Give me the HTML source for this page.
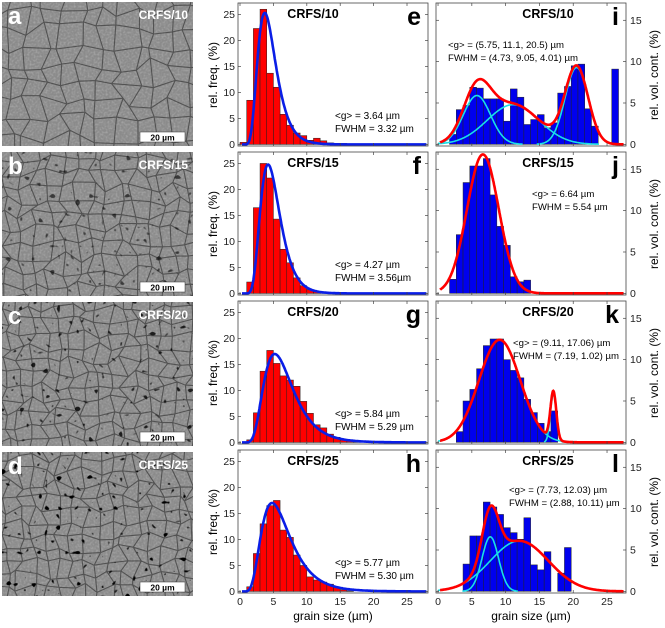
<!DOCTYPE html>
<html><head><meta charset="utf-8">
<style>
html,body{margin:0;padding:0;background:#fff;}
svg{display:block;font-family:"Liberation Sans",Arial,sans-serif;}
</style></head>
<body>
<svg id="fig" width="665" height="628" viewBox="0 0 665 628" xmlns="http://www.w3.org/2000/svg">
<defs>
<filter id="spk" x="0" y="0" width="100%" height="100%">
<feTurbulence type="fractalNoise" baseFrequency="0.16" numOctaves="1" seed="7" result="t"/>
<feColorMatrix in="t" type="matrix" values="0 0 0 0 0  0 0 0 0 0  0 0 0 0 0  -16 0 0 0 5.1" result="b"/>
<feComposite in="b" in2="SourceGraphic" operator="in"/>
</filter>
<filter id="tex" x="0" y="0" width="100%" height="100%">
<feTurbulence type="fractalNoise" baseFrequency="0.5" numOctaves="1" seed="2" result="t"/>
<feColorMatrix in="t" type="matrix" values="0 0 0 0 1  0 0 0 0 1  0 0 0 0 1  0.5 0 0 0 -0.2"/>
<feComposite in2="SourceGraphic" operator="in"/>
</filter>
</defs>
<g id="root"></g>
</svg>
<script>
// ---- middle panel histogram data (bin start = index, width 1 um) ----
const freq10 = [0.4, 8.5, 22.3, 26, 13.7, 11, 5.8, 3.7, 2.2, 1.7, 0.8, 1.2, 0.7, 0.3, 0.2, 0.2, 0.1, 0.1];
const freq15 = [0, 2.2, 16.5, 25, 22.2, 14.3, 8.5, 5.9, 3.0, 1.5, 0.7, 0.4, 0.2, 0.1, 0.1];
const freq20 = [0, 0.5, 5.7, 13.7, 17.7, 15.2, 12.8, 12, 10.8, 7.9, 5.6, 3.4, 2.8, 1.6, 1.0, 0.5, 0.3, 0.1];
const freq25 = [0, 0.9, 7.3, 13, 16.5, 17.5, 11.8, 10.4, 7, 5, 2.8, 2.2, 1.8, 1.4, 0.9, 0.3, 0.1];
// lognormal fit parameters [amplitude, mode, sigma]
const fit10 = [25.3, 3.7, 0.37];
const fit15 = [24.8, 4.2, 0.35];
const fit20 = [17.0, 5.2, 0.42];
const fit25 = [17.0, 4.8, 0.45];
// ---- right panel volume histograms ----
const binStartVol = 1.7;
const vol10 = [1.2, 4.2, 4.7, 6.9, 6.8, 5.5, 5.5, 5.5, 2.8, 6.7, 5.7, 2.4, 3.0, 3.6, 2.0, 2.6, 6.2, 7.0, 9.5, 9.7, 4.3, 2.2, 0, 0, 9.1];
const vol15 = [1.7, 7.1, 13.4, 15.4, 15.4, 16.3, 11.9, 8.1, 5.8, 2.0, 1.4, 1.6];
const vol20 = [0, 1.3, 5.0, 6.4, 8.9, 11.7, 12.5, 12.5, 10.0, 8.7, 7.8, 5.2, 3.6, 2.3, 1.3, 3.8];
const vol25 = [0, 0, 3.3, 6.7, 6.7, 10.8, 10.2, 9.3, 7.7, 7.1, 6.3, 8.9, 3.2, 2.6, 4.8, 0, 2.2, 5.3];
// gaussian components: centres, FWHMs, heights
const cen10 = [5.75, 11.1, 20.5], fw10 = [4.73, 9.05, 4.01], ht10 = [5.9, 4.8, 9.3];
const cen15 = [6.64], fw15 = [5.54], ht15 = [16.8];
const cen20 = [9.11, 17.06], fw20 = [7.19, 1.02], ht20 = [12.4, 5.8];
const cen25 = [7.73, 12.03], fw25 = [2.88, 10.11], ht25 = [6.6, 6.1];
const xTicks = [0, 5, 10, 15, 20, 25];
const yTicksFreq = [0, 5, 10, 15, 20, 25];
const yTicksVol = [0, 5, 10, 15];
const names = ["CRFS/10", "CRFS/15", "CRFS/20", "CRFS/25"];
const midLetters = ["e", "f", "g", "h"], rightLetters = ["i", "j", "k", "l"], imgLetters = ["a", "b", "c", "d"];
const meanTxt = ["<g> = 3.64 \u00b5m", "<g> = 4.27 \u00b5m", "<g> = 5.84 \u00b5m", "<g> = 5.77 \u00b5m"];
const fwTxt = ["FWHM = 3.32 \u00b5m", "FWHM = 3.56\u00b5m", "FWHM = 5.29 \u00b5m", "FWHM = 5.30 \u00b5m"];
const volMean = ["<g> = (5.75, 11.1, 20.5) \u00b5m", "<g> = 6.64 \u00b5m", "<g> = (9.11, 17.06) \u00b5m", "<g> = (7.73, 12.03) \u00b5m"];
const volFw = ["FWHM = (4.73, 9.05, 4.01) \u00b5m", "FWHM = 5.54 \u00b5m", "FWHM = (7.19, 1.02) \u00b5m", "FWHM = (2.88, 10.11) \u00b5m"];

const freqs = [freq10, freq15, freq20, freq25];
const fits = [fit10, fit15, fit20, fit25];
const vols = [vol10, vol15, vol20, vol25];
const cens = [cen10, cen15, cen20, cen25], fws = [fw10, fw15, fw20, fw25], hts = [ht10, ht15, ht20, ht25];

const NS = "http://www.w3.org/2000/svg";
const root = document.getElementById("root");
function el(tag, attrs, parent, txt) {
  const e = document.createElementNS(NS, tag);
  for (const k in attrs) e.setAttribute(k, attrs[k]);
  if (txt !== undefined) e.textContent = txt;
  (parent || root).appendChild(e);
  return e;
}
function lognorm(p, x) { if (x <= 0) return 0; const l = Math.log(x / p[1]); return p[0] * Math.exp(-l * l / (2 * p[2] * p[2])); }
function gauss(c, f, h, x) { const s = f / 2.3548; return h * Math.exp(-(x - c) * (x - c) / (2 * s * s)); }
let seed = 12345;
function rnd() { seed = (seed * 1103515245 + 12345) % 2147483648; return seed / 2147483648; }

for (let r = 0; r < 4; r++) {
  const top = 3 + 149 * r, bot = top + 143;
  // ---- micrograph ----
  const mg = el("g", {}, root);
  
  
  const iy = 2 + 150 * r;
  const mcid = "mc" + r;
  const mcp = el("clipPath", { id: mcid }, mg); el("rect", { x: 2, y: iy, width: 191, height: 144 }, mcp);
  const mgi = el("g", { "clip-path": "url(#" + mcid + ")" }, mg);
  el("rect", { x: 2, y: iy, width: 191, height: 144, fill: "#8b8b8b" }, mgi);
  el("rect", { x: 2, y: iy, width: 191, height: 144, fill: "#fff", filter: "url(#tex)" }, mgi);
  // grain boundary network on jittered grid
  const sp = [18, 14, 13, 13][r];
  const nx = Math.ceil(195 / sp) + 2, ny = Math.ceil(150 / sp) + 2;
  const P = [];
  for (let j = 0; j < ny; j++) { P.push([]); for (let i = 0; i < nx; i++) P[j].push([i * sp - sp / 2 + (rnd() - 0.5) * sp * 0.8, iy + j * sp - sp / 2 + (rnd() - 0.5) * sp * 0.8]); }
  let gd = "";
  for (let j = 0; j < ny; j++) for (let i = 0; i < nx; i++) {
    const p = P[j][i];
    if (i + 1 < nx) gd += "M" + p[0].toFixed(1) + "," + p[1].toFixed(1) + "L" + P[j][i + 1][0].toFixed(1) + "," + P[j][i + 1][1].toFixed(1);
    if (j + 1 < ny) gd += "M" + p[0].toFixed(1) + "," + p[1].toFixed(1) + "L" + P[j + 1][i][0].toFixed(1) + "," + P[j + 1][i][1].toFixed(1);
  }
  el("path", { d: gd, fill: "none", stroke: "#3e3e3e", "stroke-width": 1.1, opacity: 0.75 }, mgi);
  if (r > 0) el("rect", { x: 2, y: iy, width: 191, height: 144, fill: "#000", opacity: 0.4 + 0.2 * r, filter: "url(#spk)" }, mgi);
  const lt = el("text", { x: 8, y: iy + 22, fill: "#fff", "font-size": 24, "font-weight": "bold" }, mg, imgLetters[r]);
  
  
  const nt = el("text", { x: 188, y: iy + 17, fill: "#fff", "font-size": 12, "font-weight": "bold", "text-anchor": "end" }, mg, names[r]);
  
  
  const sb = el("rect", { x: 140, y: iy + 130, width: 45, height: 10, fill: "#fff", stroke: "#333", "stroke-width": 0.5 }, mg);
  
  
  el("text", { x: 162.5, y: iy + 138.5, "font-size": 8.5, "font-weight": "bold", "text-anchor": "middle" }, mg, "20 \u00b5m");

  // ---- middle panel ----
  const mx0 = 238, mx1 = 428;
  const X = v => mx0 + (v + 0.3) * 6.68;
  const Y = v => bot - (v + 0.3) * 5.2;
  const mp = el("g", {}, root);
  
  
  const cl = "clipm" + r;
  const cp = el("clipPath", { id: cl }, mp); el("rect", { x: mx0, y: top, width: mx1 - mx0, height: bot - top }, cp);
  const bars = el("g", { "clip-path": "url(#" + cl + ")" }, mp);
  freqs[r].forEach((v, i) => {
    if (v <= 0) return;
    const b = el("rect", { x: X(i), y: Y(v), width: X(i + 1) - X(i), height: Y(0) - Y(v), fill: "#ff0000", stroke: "#222", "stroke-width": 0.5 }, bars);
    
    
  });
  let d = "";
  for (let x = 0.3; x <= 28; x += 0.1) d += (d ? "L" : "M") + X(x).toFixed(1) + "," + Y(lognorm(fits[r], x)).toFixed(1);
  const fc = el("path", { d: d, fill: "none", stroke: "#0a1ee6", "stroke-width": 2.6 }, bars);
  
  
  const fr = el("rect", { x: mx0, y: top, width: mx1 - mx0, height: bot - top, fill: "none", stroke: "#444", "stroke-width": 0.8 }, mp);
  
  
  xTicks.forEach(t => {
    el("line", { x1: X(t), x2: X(t), y1: bot, y2: bot - 3, stroke: "#444", "stroke-width": 0.7 }, mp);
    el("line", { x1: X(t), x2: X(t), y1: top, y2: top + 3, stroke: "#444", "stroke-width": 0.7 }, mp);
    if (r === 3) el("text", { x: X(t), y: bot + 12, "font-size": 10.5, "text-anchor": "middle", fill: "#222" }, mp, t);
  });
  yTicksFreq.forEach(t => {
    el("line", { x1: mx0, x2: mx0 + 3, y1: Y(t), y2: Y(t), stroke: "#444", "stroke-width": 0.7 }, mp);
    el("line", { x1: mx1, x2: mx1 - 3, y1: Y(t), y2: Y(t), stroke: "#444", "stroke-width": 0.7 }, mp);
    el("text", { x: mx0 - 3, y: Y(t) + 3.5, "font-size": 10.5, "text-anchor": "end", fill: "#222" }, mp, t);
  });
  const ttl = el("text", { x: 313, y: top + 15, "font-size": 12.5, "font-weight": "bold", "text-anchor": "middle" }, mp, names[r]);
  
  
  el("text", { x: 421, y: top + 22, "font-size": 25, "font-weight": "bold", "text-anchor": "end" }, mp, midLetters[r]);
  el("text", { x: 335, y: top + 116, "font-size": 10 }, mp, meanTxt[r]);
  el("text", { x: 335, y: top + 129, "font-size": 10 }, mp, fwTxt[r]);
  const yl = el("text", { x: 0, y: 0, "font-size": 12, "text-anchor": "middle", transform: "translate(217," + (top + 72) + ") rotate(-90)" }, mp, "rel. freq. (%)");
  
  

  // ---- right panel ----
  const rx0 = 436, rx1 = 626;
  const RX = v => rx0 + (v + 0.3) * 6.76;
  const RY = v => bot - (v + 0.2) * 8.27;
  const rp = el("g", {}, root);
  
  
  const cl2 = "clipr" + r;
  const cp2 = el("clipPath", { id: cl2 }, rp); el("rect", { x: rx0, y: top, width: rx1 - rx0, height: bot - top }, cp2);
  const g2 = el("g", { "clip-path": "url(#" + cl2 + ")" }, rp);
  vols[r].forEach((v, i) => {
    if (v <= 0) return;
    const s = binStartVol + i;
    const b = el("rect", { x: RX(s), y: RY(v), width: RX(s + 1) - RX(s), height: RY(0) - RY(v), fill: "#0000ee", stroke: "#222", "stroke-width": 0.5 }, g2);
    
    
  });
  const C = cens[r], F = fws[r], H = hts[r];
  if (C.length > 1) {
    C.forEach((c, k) => {
      let dd = "";
      for (let x = 0; x <= 27; x += 0.1) { const v = gauss(c, F[k], H[k], x); if (v > 0.02) dd += (dd ? "L" : "M") + RX(x).toFixed(1) + "," + RY(v).toFixed(1); }
      const cc = el("path", { d: dd, fill: "none", stroke: "#19e0e6", "stroke-width": 1.6 }, g2);
      
      
    });
  }
  let ds = "";
  for (let x = 0.3; x <= 27.5; x += 0.05) {
    let v = 0; C.forEach((c, k) => v += gauss(c, F[k], H[k], x));
    ds += (ds ? "L" : "M") + RX(x).toFixed(1) + "," + RY(v).toFixed(1);
  }
  const sc = el("path", { d: ds, fill: "none", stroke: "#ff0000", "stroke-width": 2.6 }, g2);
  
  
  const fr2 = el("rect", { x: rx0, y: top, width: rx1 - rx0, height: bot - top, fill: "none", stroke: "#444", "stroke-width": 0.8 }, rp);
  
  
  xTicks.forEach(t => {
    el("line", { x1: RX(t), x2: RX(t), y1: bot, y2: bot - 3, stroke: "#444", "stroke-width": 0.7 }, rp);
    el("line", { x1: RX(t), x2: RX(t), y1: top, y2: top + 3, stroke: "#444", "stroke-width": 0.7 }, rp);
    if (r === 3) el("text", { x: RX(t), y: bot + 12, "font-size": 10.5, "text-anchor": "middle", fill: "#222" }, rp, t);
  });
  yTicksVol.forEach(t => {
    el("line", { x1: rx0, x2: rx0 + 3, y1: RY(t), y2: RY(t), stroke: "#444", "stroke-width": 0.7 }, rp);
    el("line", { x1: rx1, x2: rx1 - 3, y1: RY(t), y2: RY(t), stroke: "#444", "stroke-width": 0.7 }, rp);
    el("text", { x: rx1 + 4, y: RY(t) + 3.5, "font-size": 10.5, fill: "#222" }, rp, t);
  });
  const t2 = el("text", { x: 548, y: top + 15, "font-size": 12.5, "font-weight": "bold", "text-anchor": "middle" }, rp, names[r]);
  
  
  el("text", { x: 619, y: top + 22, "font-size": 25, "font-weight": "bold", "text-anchor": "end" }, rp, rightLetters[r]);
  const ax = [448, 532, 513, 509][r], ay = top + (r === 3 ? 43 : 45);
  el("text", { x: ax, y: ay, "font-size": 9.6 }, rp, volMean[r]);
  el("text", { x: ax, y: ay + 13, "font-size": 9.6 }, rp, volFw[r]);
  const yr = el("text", { x: 0, y: 0, "font-size": 12, "text-anchor": "middle", transform: "translate(658," + (top + 72) + ") rotate(-90)" }, rp, "rel. vol. cont. (%)");
  
  
}
const xl1 = el("text", { x: 333, y: 620, "font-size": 12, "text-anchor": "middle" }, root, "grain size (\u00b5m)");


const xl2 = el("text", { x: 531, y: 620, "font-size": 12, "text-anchor": "middle" }, root, "grain size (\u00b5m)");


</script>
</body></html>
